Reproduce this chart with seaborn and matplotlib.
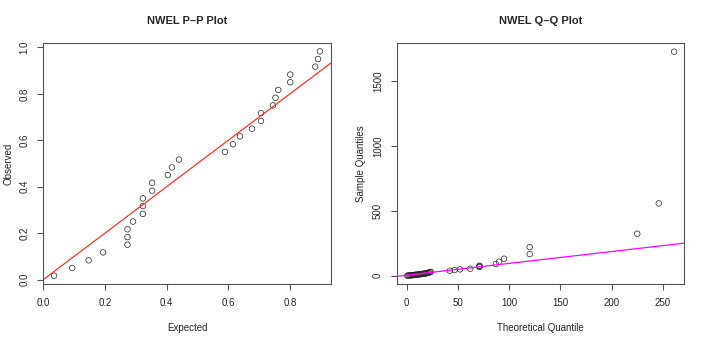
import numpy as np
import pandas as pd
import matplotlib
matplotlib.use("Agg")
import matplotlib.pyplot as plt
import seaborn as sns

# P-P plot values
pp_expected = [0.035, 0.094, 0.147, 0.194, 0.273, 0.273, 0.273, 0.291, 0.323, 0.323,
               0.323, 0.353, 0.353, 0.404, 0.417, 0.440, 0.589, 0.615, 0.638, 0.677,
               0.706, 0.706, 0.745, 0.753, 0.762, 0.801, 0.801, 0.882, 0.891, 0.897]
pp_observed = [0.017, 0.050, 0.083, 0.117, 0.150, 0.183, 0.217, 0.250, 0.283, 0.317,
               0.350, 0.383, 0.417, 0.450, 0.483, 0.517, 0.550, 0.583, 0.617, 0.650,
               0.683, 0.717, 0.750, 0.783, 0.817, 0.850, 0.883, 0.917, 0.950, 0.983]

# Q-Q plot values
qq_theoretical = [0.5, 1.5, 2.5, 3.5, 4.5, 5.5, 6.5, 7.5, 8.5, 9.5, 10.5, 11.5, 12.5,
                  13.5, 14.5, 15.5, 16.5, 17.5, 18.5, 19.5, 20.5, 21.5, 22.5, 23.5,
                  42, 46.7, 52, 62, 71, 71, 71, 87, 90, 95, 120, 120, 225, 246, 261]
qq_sample = [0.5, 1, 2, 3, 3.5, 4, 5, 6, 7, 8, 9, 10, 11, 12, 13, 14, 16, 17, 18, 20,
             22, 24, 27, 30, 39, 44, 49, 54, 67, 72, 77, 90, 108, 131, 167, 221, 324,
             558, 1729]

pp_line = (0.0, 1.0)        # intercept, slope
qq_line = (3.9, 0.913)

sns.set_style("ticks")
plt.rcParams["font.family"] = ["Liberation Sans", "DejaVu Sans"]

fig = plt.figure(figsize=(7.06, 3.39), dpi=100)
ax1 = fig.add_axes([0.0613, 0.1622, 0.4075, 0.711])
ax2 = fig.add_axes([0.5619, 0.1622, 0.4075, 0.711])

pp = pd.DataFrame({"Expected": pp_expected, "Observed": pp_observed})
qq = pd.DataFrame({"Theoretical": qq_theoretical, "Sample": qq_sample})

sns.scatterplot(data=pp, x="Expected", y="Observed", ax=ax1, marker="o", s=16,
                facecolor="none", edgecolor="#222222", linewidth=0.5)
ax1.axline((0, pp_line[0]), slope=pp_line[1], color="#ff3030", lw=0.9)
ax1.set_xlim(0, 0.933)
ax1.set_ylim(-0.019, 1.019)
ax1.set_xticks([0.0, 0.2, 0.4, 0.6, 0.8])
ax1.set_yticks([0.0, 0.2, 0.4, 0.6, 0.8, 1.0])
ax1.set_xticklabels(["0.0", "0.2", "0.4", "0.6", "0.8"])
ax1.set_yticklabels(["0.0", "0.2", "0.4", "0.6", "0.8", "1.0"], rotation=90, va="center")
ax1.set_xlabel("Expected", fontsize=7)
ax1.set_ylabel("Observed", fontsize=7)
ax1.set_title("NWEL P\u2013P Plot", fontsize=8, fontweight="bold", pad=14)

sns.scatterplot(data=qq, x="Theoretical", y="Sample", ax=ax2, marker="o", s=16,
                facecolor="none", edgecolor="#222222", linewidth=0.5)
ax2.axline((0, qq_line[0]), slope=qq_line[1], color="#ff00ff", lw=0.9)
ax2.set_xlim(-9.8, 271)
ax2.set_ylim(-64, 1796)
ax2.set_xticks([0, 50, 100, 150, 200, 250])
ax2.set_yticks([0, 500, 1000, 1500])
ax2.set_yticklabels(["0", "500", "1000", "1500"], rotation=90, va="center")
ax2.set_xlabel("Theoretical Quantile", fontsize=7)
ax2.set_ylabel("Sample Quantiles", fontsize=7)
ax2.set_title("NWEL Q\u2013Q Plot", fontsize=8, fontweight="bold", pad=14)

for ax in (ax1, ax2):
    ax.tick_params(labelsize=7, length=4, width=0.8, color="#555555", pad=6)
    ax.yaxis.set_label_coords(-0.105, 0.5)
    ax.xaxis.set_label_coords(0.5, -0.16)
    for sp in ax.spines.values():
        sp.set_color("#555555")
        sp.set_linewidth(0.8)

fig.savefig("out.png", dpi=100)
